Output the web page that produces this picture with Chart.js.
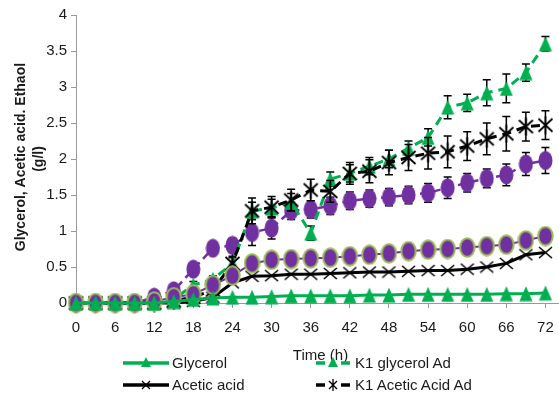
<!DOCTYPE html>
<html>
<head>
<meta charset="utf-8">
<script src="https://cdn.jsdelivr.net/npm/chart.js@4.4.1/dist/chart.umd.min.js"></script>
<style>
  html, body { margin: 0; padding: 0; background: #fff; overflow: hidden; }
  #wrap { position: relative; width: 559px; height: 405px; overflow: hidden; }
  canvas { position: absolute; left: 0; top: 0; }
  .lg { position: absolute; font-family: "Liberation Sans", Arial, sans-serif; font-size: 15px; color: #1a1a1a; line-height: 18px; white-space: nowrap; }
  .lgs { position: absolute; }
  #mask { position: absolute; left: 0; top: 395px; width: 559px; height: 10px; background: #fff; }
</style>
</head>
<body>
<div id="wrap">
  <canvas id="c" width="575" height="405"></canvas>
  <svg class="lgs" style="left:121px;top:355px" width="52" height="16">
    <line x1="2" y1="8" x2="48" y2="8" stroke="#00B050" stroke-width="3.5"/>
    <polygon points="25,2 30,12 20,12" fill="#00B050"/>
  </svg>
  <div class="lg" style="left:172px;top:354px">Glycerol</div>
  <svg class="lgs" style="left:121px;top:377px" width="52" height="16">
    <line x1="2" y1="8" x2="48" y2="8" stroke="#000" stroke-width="3.5"/>
    <path d="M21,4 L29,12 M29,4 L21,12" stroke="#000" stroke-width="1.3"/>
  </svg>
  <div class="lg" style="left:172px;top:376px">Acetic acid</div>
  <svg class="lgs" style="left:314px;top:355px" width="40" height="16">
    <line x1="2" y1="8" x2="11" y2="8" stroke="#00B050" stroke-width="3.5"/>
    <polygon points="19,2 24,12 14,12" fill="#00B050"/>
    <line x1="27" y1="8" x2="36" y2="8" stroke="#00B050" stroke-width="3.5"/>
  </svg>
  <div class="lg" style="left:355px;top:354px">K1 glycerol Ad</div>
  <svg class="lgs" style="left:314px;top:377px" width="40" height="16">
    <line x1="2" y1="8" x2="11" y2="8" stroke="#000" stroke-width="3.5"/>
    <path d="M15,4 L23,12 M23,4 L15,12 M19,2 L19,14" stroke="#000" stroke-width="1.3"/>
    <line x1="27" y1="8" x2="36" y2="8" stroke="#000" stroke-width="3.5"/>
  </svg>
  <div class="lg" style="left:355px;top:376px">K1 Acetic Acid Ad</div>
  <div id="mask"></div>
</div>
<script>
// ---- data ----
const times = [0,3,6,9,12,15,18,21,24,27,30,33,36,39,42,45,48,51,54,57,60,63,66,69,72];
const xTicks = [0,6,12,18,24,30,36,42,48,54,60,66,72];
const yTicks = [0,0.5,1,1.5,2,2.5,3,3.5,4];

const glycerol   = [0,0,0,0,0,0.02,0.05,0.07,0.08,0.08,0.09,0.1,0.1,0.1,0.1,0.11,0.11,0.12,0.12,0.12,0.12,0.12,0.13,0.13,0.14];
const aceticAcid = [0,0,0,0,0,0,0.02,0.08,0.28,0.37,0.38,0.4,0.4,0.41,0.42,0.43,0.43,0.44,0.45,0.45,0.47,0.5,0.55,0.67,0.7];
const ethanol    = [0,0,0,0,0.02,0.08,0.12,0.25,0.38,0.55,0.6,0.61,0.62,0.63,0.65,0.67,0.69,0.72,0.74,0.75,0.77,0.79,0.81,0.87,0.93];

const k1Glycerol = [0,0,0,0,0,0.05,0.25,0.33,0.55,1.28,1.32,1.4,0.97,1.72,1.8,1.9,2.0,2.15,2.3,2.72,2.78,2.92,2.98,3.2,3.6];
const k1Acetic   = [0,0,0,0,0,0.03,0.08,0.18,0.55,1.28,1.33,1.43,1.57,1.55,1.8,1.83,1.95,2.02,2.08,2.1,2.18,2.28,2.35,2.45,2.47];
const k1Ethanol  = [0,0,0,0,0.08,0.17,0.47,0.76,0.8,0.98,1.04,1.28,1.3,1.35,1.42,1.45,1.47,1.5,1.53,1.6,1.67,1.73,1.78,1.93,1.98];

const k1GlycerolErr = [0,0,0,0,0,0.03,0.05,0.05,0.08,0.12,0.12,0.12,0.1,0.1,0.12,0.12,0.12,0.1,0.12,0.16,0.12,0.18,0.2,0.12,0.1];
const k1AceticErr   = [0,0,0,0,0,0.03,0.05,0.06,0.1,0.18,0.15,0.15,0.15,0.15,0.15,0.16,0.17,0.18,0.22,0.22,0.2,0.22,0.24,0.2,0.2];
const k1EthanolErr  = [0,0,0,0,0.03,0.05,0.06,0.08,0.1,0.18,0.15,0.12,0.12,0.12,0.12,0.12,0.12,0.12,0.13,0.15,0.13,0.13,0.15,0.16,0.18];

// ---- marker images (style only) ----
const GREEN = '#00B050', PURPLE = '#7030A0', OLIVE = '#9BBB59';
function mk(w, h, draw) { const c = document.createElement('canvas'); c.width = w; c.height = h; draw(c.getContext('2d'), w, h); return c; }
const triImg = mk(14, 16, (g, w, h) => { g.fillStyle = GREEN; g.beginPath(); g.moveTo(w/2, 0.5); g.lineTo(w-0.5, h-0.5); g.lineTo(0.5, h-0.5); g.closePath(); g.fill(); });
const ellImg = mk(15, 20, (g, w, h) => { g.fillStyle = PURPLE; g.beginPath(); g.ellipse(w/2, h/2, 7, 9.4, 0, 0, Math.PI*2); g.fill(); });
const ellOliveImg = mk(17, 21, (g, w, h) => { g.fillStyle = PURPLE; g.strokeStyle = OLIVE; g.lineWidth = 2; g.beginPath(); g.ellipse(w/2, h/2, 7.2, 9.3, 0, 0, Math.PI*2); g.fill(); g.stroke(); });
const xImg = mk(15, 13, (g, w, h) => { g.strokeStyle = '#000'; g.lineWidth = 1.6; g.beginPath(); g.moveTo(1,1); g.lineTo(w-1,h-1); g.moveTo(w-1,1); g.lineTo(1,h-1); g.stroke(); });
const starImg = mk(17, 19, (g, w, h) => { g.strokeStyle = '#000'; g.lineWidth = 1.8; g.beginPath(); g.moveTo(1.5,3); g.lineTo(w-1.5,h-3); g.moveTo(w-1.5,3); g.lineTo(1.5,h-3); g.moveTo(w/2,0.5); g.lineTo(w/2,h-0.5); g.stroke(); });

const pts = a => times.map((t, i) => ({x: t, y: a[i]}));

// error bar plugin: draws bars through the scales before each dataset's own markers
const errorBars = {
  id: 'errorBars',
  beforeDatasetDraw(chart, args) {
    const ds = chart.data.datasets[args.index];
    if (!ds.errors) return;
    const {ctx, scales: {x, y}} = chart;
    ctx.save();
    ctx.strokeStyle = '#000';
    ctx.lineWidth = 1.5;
    ds.data.forEach((p, i) => {
      const e = ds.errors[i];
      if (!e) return;
      const px = x.getPixelForValue(p.x);
      const yt = y.getPixelForValue(p.y + e), yb = y.getPixelForValue(p.y - e);
      ctx.beginPath();
      ctx.moveTo(px, yt); ctx.lineTo(px, yb);
      ctx.moveTo(px - 4, yt); ctx.lineTo(px + 4, yt);
      ctx.moveTo(px - 4, yb); ctx.lineTo(px + 4, yb);
      ctx.stroke();
    });
    ctx.restore();
  }
};

const FONT = '"Liberation Sans", Arial, sans-serif';
new Chart(document.getElementById('c'), {
  type: 'line',
  data: {
    datasets: [
      { label: 'Glycerol', data: pts(glycerol), borderColor: GREEN, borderWidth: 3, pointStyle: triImg, order: 1 },
      { label: 'Acetic acid', data: pts(aceticAcid), borderColor: '#000', borderWidth: 3, pointStyle: xImg, order: 3 },
      { label: 'Ethanol', data: pts(ethanol), borderColor: PURPLE, borderWidth: 2, pointStyle: ellOliveImg, order: 2 },
      { label: 'K1 glycerol Ad', data: pts(k1Glycerol), errors: k1GlycerolErr, borderColor: GREEN, borderWidth: 3, borderDash: [9, 6], pointStyle: triImg, order: 5 },
      { label: 'K1 Acetic Acid Ad', data: pts(k1Acetic), errors: k1AceticErr, borderColor: '#000', borderWidth: 3, borderDash: [9, 6], pointStyle: starImg, order: 4 },
      { label: 'K1 Ethanol Ad', data: pts(k1Ethanol), errors: k1EthanolErr, borderColor: PURPLE, borderWidth: 2.5, borderDash: [8, 5], pointStyle: ellImg, order: 6 }
    ]
  },
  options: {
    responsive: false,
    animation: false,
    devicePixelRatio: 1,
    clip: false,
    layout: { padding: { top: 15, left: 0, right: 0, bottom: 0 } },
    plugins: { legend: { display: false }, tooltip: { enabled: false } },
    elements: { line: { tension: 0, fill: false }, point: { radius: 7 } },
    scales: {
      x: {
        type: 'linear', min: 0, max: 75,
        afterBuildTicks: s => { s.ticks = xTicks.map(v => ({value: v})); },
        afterFit: s => { s.height = 102; },
        ticks: { font: { family: FONT, size: 15 }, color: '#1a1a1a', padding: 11, maxRotation: 0, autoSkip: false, callback: v => String(v) },
        grid: { display: true, drawOnChartArea: false, drawTicks: true, tickLength: 5, color: '#9a9a9a' },
        border: { display: true, color: '#9a9a9a', width: 1 },
        title: { display: true, text: 'Time (h)', font: { family: FONT, size: 15 }, color: '#1a1a1a', padding: { top: 0, bottom: 40 } }
      },
      y: {
        type: 'linear', min: 0, max: 4,
        afterBuildTicks: s => { s.ticks = yTicks.map(v => ({value: v})); },
        afterFit: s => { s.width = 76; },
        ticks: { font: { family: FONT, size: 15 }, color: '#1a1a1a', padding: 4, callback: v => String(v) },
        grid: { display: true, drawOnChartArea: false, drawTicks: true, tickLength: 5, color: '#9a9a9a' },
        border: { display: true, color: '#9a9a9a', width: 1 },
        title: { display: true, text: [' Glycerol, Acetic acid. Ethaol', '(g/l)'], font: { family: FONT, size: 14, weight: 'bold', lineHeight: 1.3 }, color: '#1a1a1a', padding: { top: 12, bottom: 0 } }
      }
    }
  },
  plugins: [errorBars]
});
</script>
</body>
</html>
